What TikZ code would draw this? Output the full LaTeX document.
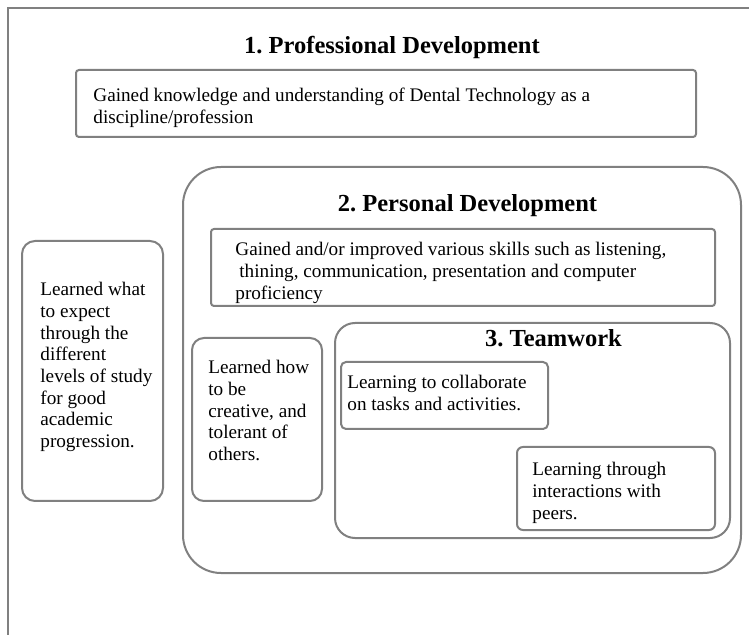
\documentclass[tikz,border=0pt]{standalone}
\usepackage{fontspec}
\setmainfont{Liberation Serif}
\frenchspacing
\tikzstyle{frame} = [draw=black!50, line width=1.25pt]

\begin{document}
\begin{tikzpicture}[x=0.5pt, y=-0.5pt,
   box/.style={draw=black!50, line width=1pt, inner sep=0pt, outer sep=0pt},
   title/.style={anchor=base, font=\fontsize{12.25}{14}\selectfont\bfseries},
   txt/.style={anchor=north west, align=left, inner sep=0pt, font=\fontsize{9.6}{10.85}\selectfont}]
\useasboundingbox (0, 0) rectangle (749, 635);

\coordinate (frametr) at (749, 8);
\coordinate (frametl) at (8, 8);
\coordinate (framebl) at (8, 635);
\draw[frame] (frametr) -- (frametl) -- (framebl);

% 1. professional
\node[title] (proftitle) at (392, 54) {1. Professional Development};

\node[box, rounded corners=1.5pt, minimum width=310pt, minimum height=33.5pt] (profbox) at (386, 103.5) {};

\node[txt] (proftext) at (93, 88) {Gained knowledge and understanding of Dental Technology as a\\discipline/profession};

% learned what to expect
\node[box, rounded corners=6.5pt, minimum width=70.5pt, minimum height=130pt] (expectbox) at (92.5, 371) {};

\node[txt] (expecttext) at (40, 282) {Learned what\\to expect\\through the\\different\\levels of study\\for good\\academic\\progression.};

% 2. personal
\node[box, rounded corners=19pt, minimum width=279pt, minimum height=203pt] (persbox) at (462, 370) {};

\node[title] (perstitle) at (467.5, 212) {2. Personal Development};

\node[box, rounded corners=1.5pt, minimum width=252pt, minimum height=38.5pt] (skillbox) at (463, 267.5) {};

\node[txt] (skilltext) at (235, 242) {Gained and/or improved various skills such as listening,\\\hspace{2pt}thining, communication, presentation and computer\\proficiency};

\node[box, rounded corners=6pt, minimum width=65pt, minimum height=81.5pt] (creatbox) at (257, 419.5) {};

\node[txt] (creattext) at (208, 360) {Learned how\\to be\\creative, and\\tolerant of\\others.};

% 3. teamwork
\node[box, rounded corners=10pt, minimum width=197.5pt, minimum height=107.5pt] (teambox) at (532.5, 430.5) {};

\node[title] (teamtitle) at (553.5, 347) {3. Teamwork};

\node[box, rounded corners=2.5pt, minimum width=103.5pt, minimum height=33.5pt] (collabbox) at (444.5, 395.5) {};

\node[txt] (collabtext) at (347, 375) {Learning to collaborate\\on tasks and activities.};

\node[box, rounded corners=3pt, minimum width=99pt, minimum height=41.5pt] (peerbox) at (616, 488.5) {};

\node[txt] (peertext) at (532, 462) {Learning through\\interactions with\\peers.};

\end{tikzpicture}
\end{document}
